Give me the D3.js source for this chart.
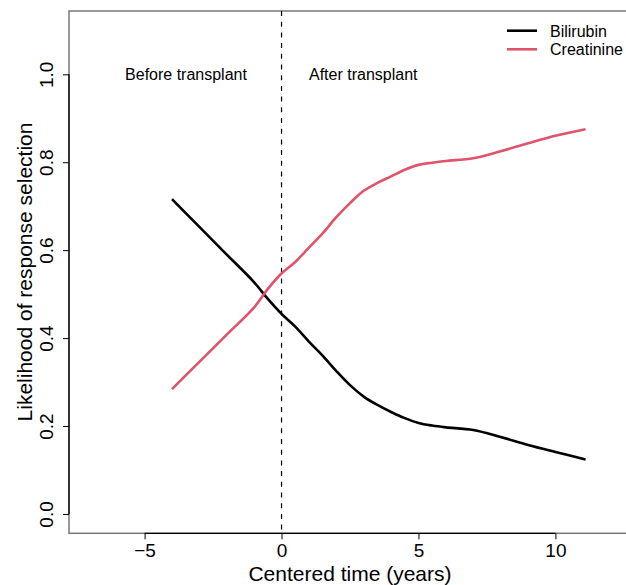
<!DOCTYPE html>
<html>
<head>
<meta charset="utf-8">
<script src="https://cdn.jsdelivr.net/npm/d3@7"></script>
<style>
    body { margin: 0; background: #fff; }
    svg { display: block; font-family: "Liberation Sans", Arial, sans-serif; }
</style>
</head>
<body>
<svg id="chart" width="626" height="585"></svg>
<script>
// Data
const timePoints = [-4, -3, -2, -1, -0.5, 0, 0.5, 1, 1.5, 2, 2.5, 3, 3.5, 4, 4.5, 5, 5.5, 6, 7, 8, 9, 10, 11.1];
const bilirubin = [0.716, 0.653, 0.590, 0.527, 0.489, 0.455, 0.426, 0.392, 0.360, 0.325, 0.293, 0.267, 0.248, 0.232, 0.218, 0.207, 0.201, 0.197, 0.191, 0.175, 0.157, 0.141, 0.124];
const creatinine = [0.284, 0.346, 0.408, 0.470, 0.512, 0.547, 0.573, 0.606, 0.638, 0.675, 0.707, 0.735, 0.753, 0.768, 0.783, 0.794, 0.799, 0.803, 0.809, 0.825, 0.843, 0.860, 0.875];
const xTicks = [-5, 0, 5, 10];
const yTicks = [0, 0.2, 0.4, 0.6, 0.8, 1.0];
const seriesNames = ["Bilirubin", "Creatinine"];
const seriesColors = ["#000000", "#DF536B"];

const svg = d3.select("#chart");

// R-style padded limits: xlim c(-7, 12), ylim c(0, 1.1)
const x = d3.scaleLinear().domain([-7.76, 12.76]).range([69, 631]);
const y = d3.scaleLinear().domain([-0.044, 1.144]).range([533.3, 11]);

// Box around the plot region (gray)
svg.append("rect")
    .attr("x", 69)
    .attr("y", 11)
    .attr("width", 631 - 69)
    .attr("height", 533.3 - 11)
    .style("fill", "none")
    .style("stroke", "#777")
    .style("stroke-width", 1.5);

// Bottom axis
const xAxis = svg.append("g")
    .attr("transform", `translate(0,${533.3})`)
    .call(d3.axisBottom(x).tickValues(xTicks).tickSize(6).tickSizeOuter(0)
        .tickFormat(d => d < 0 ? "\u2212" + Math.abs(d) : d));
xAxis.select(".domain")
    .attr("d", `M${x(xTicks[0])},0H${x(xTicks[xTicks.length - 1])}`)
    .style("stroke", "#000")
    .style("stroke-width", 1.3);
xAxis.selectAll(".tick line").style("stroke", "#000").style("stroke-width", 1);
xAxis.selectAll(".tick text")
    .attr("y", 23.5)
    .attr("dy", 0)
    .style("font-size", "19px")
    .style("font-family", "Liberation Sans, Arial, sans-serif")
    .style("fill", "#000");

// Left axis, labels rotated like R's las = 0
const yAxis = svg.append("g")
    .attr("transform", "translate(69,0)")
    .call(d3.axisLeft(y).tickValues(yTicks).tickSize(6).tickSizeOuter(0)
        .tickFormat(d3.format(".1f")));
yAxis.select(".domain")
    .attr("d", `M0,${y(yTicks[0])}V${y(yTicks[yTicks.length - 1])}`)
    .style("stroke", "#000")
    .style("stroke-width", 1.3);
yAxis.selectAll(".tick line").style("stroke", "#000").style("stroke-width", 1);
yAxis.selectAll(".tick text")
    .attr("x", 0)
    .attr("dy", 0)
    .attr("transform", "translate(-16,0) rotate(-90)")
    .style("text-anchor", "middle")
    .style("font-size", "19px")
    .style("font-family", "Liberation Sans, Arial, sans-serif")
    .style("fill", "#000");

// Axis titles
svg.append("text")
    .attr("x", 350)
    .attr("y", 580.5)
    .attr("text-anchor", "middle")
    .style("font-size", "21px")
    .text("Centered time (years)");

svg.append("text")
    .attr("transform", `translate(31.5,272) rotate(-90)`)
    .attr("text-anchor", "middle")
    .style("font-size", "21px")
    .text("Likelihood of response selection");

// Vertical dashed line at transplant
svg.append("line")
    .attr("x1", x(0)).attr("x2", x(0))
    .attr("y1", 11).attr("y2", 533.3)
    .style("stroke", "#000")
    .style("stroke-width", 1.2)
    .style("stroke-dasharray", "5,5.7");

// Period annotations
svg.append("text")
    .attr("x", 186)
    .attr("y", 79.5)
    .attr("text-anchor", "middle")
    .style("font-size", "16px")
    .text("Before transplant");

svg.append("text")
    .attr("x", 309)
    .attr("y", 79.5)
    .style("font-size", "16px")
    .text("After transplant");

// Curves
const line = d3.line()
    .x((d, i) => x(timePoints[i]))
    .y(d => y(d))
    .curve(d3.curveCatmullRom.alpha(0.5));

[bilirubin, creatinine].forEach((values, i) => {
    svg.append("path")
        .datum(values)
        .attr("d", line)
        .style("fill", "none")
        .style("stroke", seriesColors[i])
        .style("stroke-width", 2.6)
        .style("stroke-linejoin", "round");
});

// Legend (top right)
const legend = svg.selectAll(".legend")
    .data(seriesNames)
    .enter().append("g")
    .attr("class", "legend")
    .attr("transform", (d, i) => `translate(507,${30.7 + i * 18.6})`);

legend.append("line")
    .attr("x1", 0).attr("x2", 30)
    .style("stroke", (d, i) => seriesColors[i])
    .style("stroke-width", 2.6);

legend.append("text")
    .attr("x", 43)
    .attr("y", 6)
    .style("font-size", "16px")
    .text(d => d);
</script>
</body>
</html>
